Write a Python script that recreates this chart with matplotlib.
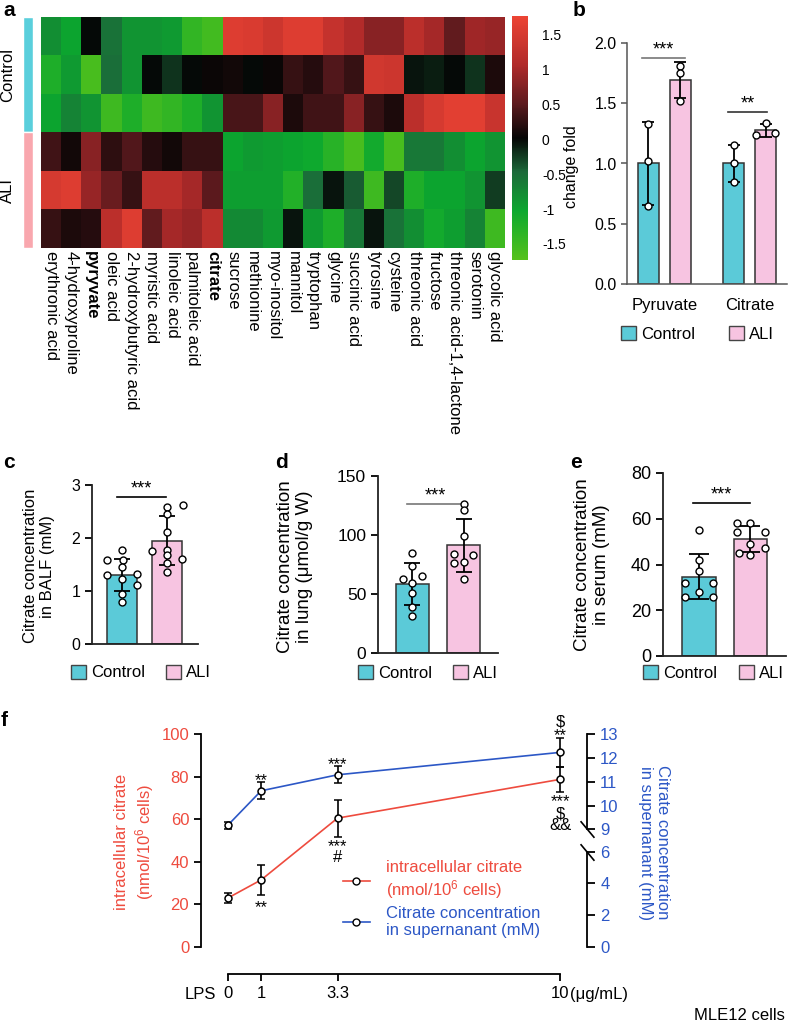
import numpy as np
import matplotlib
matplotlib.use("Agg")
import matplotlib.pyplot as plt
from matplotlib.colors import LinearSegmentedColormap
from matplotlib.patches import Patch
from matplotlib.lines import Line2D

plt.rcParams['font.family'] = ['Liberation Sans', 'DejaVu Sans']
plt.rcParams['mathtext.fontset'] = 'custom'
plt.rcParams['mathtext.rm'] = 'Liberation Sans'
plt.rcParams['mathtext.default'] = 'regular'

# ---------------- data ----------------
# a: heatmap (z-scores)
metabolites = ['erythronic acid', '4-hydroxyproline', 'pyryvate', 'oleic acid',
               '2-hydroxybutyric acid', 'myristic acid', 'linoleic acid',
               'palmitoleic acid', 'citrate', 'sucrose', 'methionine', 'myo-inositol',
               'mannitol', 'tryptophan', 'glycine', 'succinic acid', 'tyrosine',
               'cysteine', 'threonic acid', 'fructose', 'threonic acid-1,4-lactone',
               'serotonin', 'glycolic acid']
bold_names = ['pyryvate', 'citrate']
ctrl1 = [-0.8, -1.0, 0.0, -0.55, -0.85, -0.85, -0.9, -1.4, -1.55, 1.6, 1.55, 1.4, 1.6,
         1.6, 1.3, 1.1, 0.8, 0.8, 1.2, 1.0, 0.55, 0.95, 0.9]
ctrl2 = [-1.2, -0.9, -1.6, -0.5, -0.85, 0.0, -0.2, 0.0, 0.05, 0.1, 0.0, 0.05, 0.3,
         0.2, 0.45, 0.3, 1.45, 1.4, -0.05, -0.1, 0.0, -0.2, 0.15]
ctrl3 = [-1.0, -0.7, -0.85, -1.5, -1.2, -1.5, -1.4, -1.2, -0.85, 0.4, 0.4, 0.8, 0.15,
         0.35, 0.35, 0.8, 0.3, 0.15, 1.2, 1.5, 1.65, 1.65, 1.35]
ali1 = [0.35, 0.1, 0.8, 0.25, 0.45, 0.2, 0.1, 0.3, 0.3, -1.0, -0.9, -0.95, -1.0,
        -1.05, -1.3, -1.6, -1.1, -1.6, -0.6, -0.6, -0.8, -1.0, -0.85]
ali2 = [1.5, 1.6, 0.9, 0.6, 0.3, 1.2, 1.2, 1.0, 0.5, -0.95, -0.95, -0.95, -1.25,
        -0.5, -0.05, -0.4, -1.5, -0.3, -1.2, -1.0, -1.0, -0.85, -0.25]
ali3 = [0.3, 0.15, 0.2, 1.2, 1.6, 0.55, 1.0, 0.9, 1.2, -0.75, -0.75, -0.9, -0.05,
        -0.9, -1.2, -0.6, -0.05, -0.55, -0.8, -1.1, -0.95, -0.7, -1.5]
groups = ['Control', 'ALI']
group_sizes = [3, 3]
cbar_ticks = [1.5, 1, 0.5, 0, -0.5, -1, -1.5]
cbar_labels = ['1.5', '1', '0.5', '0', '-0.5', '-1', '-1.5']

# b: change fold (3 samples each)
b_names = ['Pyruvate', 'Citrate']
pyr_ctrl = [1.33, 1.02, 0.65]
pyr_ali = [1.81, 1.75, 1.52]
cit_ctrl = [1.15, 1.0, 0.85]
cit_ali = [1.34, 1.24, 1.25]

# c: BALF (mM)
balf_ctrl = [1.78, 1.58, 1.58, 1.45, 1.32, 1.30, 1.22, 1.12, 0.95, 0.80]
balf_ali = [2.63, 2.58, 2.45, 2.12, 1.76, 1.78, 1.68, 1.6, 1.52, 1.36]
# d: lung (umol/g W)
lung_ctrl = [85, 74, 65, 63, 59, 51, 39, 31]
lung_ali = [126, 121, 99, 84, 83, 77, 76, 63]
# e: serum (mM)
serum_ctrl = [55, 42, 37, 32, 32, 26, 26, 28]
serum_ali = [58, 58, 54, 54, 49, 47, 45, 44]

# f: MLE12 cells, LPS dose
lps = [0, 1, 3.3, 10]
intra_mean = [23, 31.5, 60.5, 78.7]
intra_sd = [2.5, 7, 8.7, 5.8]
super_mean = [9.18, 10.62, 11.29, 12.23]
super_sd = [0.15, 0.35, 0.36, 0.6]

# ---------------- style ----------------
cyan = '#5BCAD8'
pink = '#F7C4E1'
cyan_g = '#5ACFDC'
pink_g = '#F9A7AE'
red = '#EE4B3E'
blue = '#2C57C6'
edge = '#333333'

W, H = 788, 1027
fig = plt.figure(figsize=(W / 100, H / 100), dpi=100)


def box(x0, y0, x1, y1):
    return [x0 / W, 1 - y1 / H, (x1 - x0) / W, (y1 - y0) / H]


def panel_label(x, y, s):
    fig.text(x / W, 1 - y / H, s, fontsize=15, fontweight='bold', ha='left', va='center')


# ---------------- a ----------------
heat = np.array([ctrl1, ctrl2, ctrl3, ali1, ali2, ali3])
cmap = LinearSegmentedColormap.from_list('gbr', [
    (0.0, '#55C21B'), (0.2, '#0CA82F'), (0.36, '#1C6A3A'), (0.5, '#050505'),
    (0.64, '#5C1A1E'), (0.8, '#B02A2A'), (1.0, '#EC4434')])
ax_h = fig.add_axes(box(41, 17, 505, 248))
im = ax_h.imshow(heat, cmap=cmap, vmin=-1.73, vmax=1.77, aspect='auto',
                 interpolation='nearest')
ax_h.set_xticks(range(len(metabolites)))
ax_h.set_xticklabels(metabolites, rotation=-90, ha='center', va='top', fontsize=12)
for t in ax_h.get_xticklabels():
    if t.get_text() in bold_names:
        t.set_fontweight('bold')
ax_h.set_yticks([])
ax_h.tick_params(axis='x', length=0, pad=2)
for s in ax_h.spines.values():
    s.set_visible(False)

ax_g = fig.add_axes(box(23, 17, 33, 248))
bottoms = np.concatenate([[0], np.cumsum(group_sizes)[:-1]])
ax_g.bar([0, 0], group_sizes, bottom=bottoms, width=1, color=[cyan_g, pink_g],
         edgecolor='white', linewidth=1)
ax_g.set_xlim(-0.5, 0.5)
ax_g.set_ylim(sum(group_sizes), 0)
ax_g.set_xticks([])
ax_g.set_yticks(bottoms + np.array(group_sizes) / 2)
ax_g.set_yticklabels(groups, rotation=90, va='center', ha='right', fontsize=12)
ax_g.tick_params(axis='y', length=0, pad=6)
for s in ax_g.spines.values():
    s.set_visible(False)

cax = fig.add_axes(box(512, 16, 528, 260))
cb = fig.colorbar(im, cax=cax)
cb.outline.set_visible(False)
cb.set_ticks(cbar_ticks)
cb.set_ticklabels(cbar_labels)
cax.tick_params(length=0, labelsize=10, pad=10)
panel_label(3, 10, 'a')


# ---------------- bar helpers ----------------
def style_axis(ax, lw=1.3, color='#222222'):
    for s in ['top', 'right']:
        ax.spines[s].set_visible(False)
    for s in ['left', 'bottom']:
        ax.spines[s].set_linewidth(lw)
        ax.spines[s].set_color(color)


def draw_bar(ax, x, pts, color, width, jit, capsize):
    pts = np.asarray(pts, float)
    m = pts.mean()
    sd = pts.std(ddof=1)
    ax.bar(x, m, width, color=color, edgecolor=edge, linewidth=1.1, zorder=1)
    ax.errorbar(x, m, yerr=sd, color='black', capsize=capsize, elinewidth=1.3,
                capthick=1.3, zorder=3)
    ax.plot(x + np.asarray(jit) * width, pts, 'o', ms=5, mfc='white', mec='black',
            mew=1.0, zorder=4, clip_on=False)


def sig(ax, x0, x1, y, s, color='black', off=2.5):
    ax.plot([x0, x1], [y, y], color=color, lw=1.2, zorder=2)
    ax.annotate(s, xy=((x0 + x1) / 2, y), xytext=(0, off), textcoords='offset points',
                ha='center', va='baseline', fontsize=13)


def pair_legend(ax, anchor, colspace):
    handles = [Patch(facecolor=cyan, edgecolor='#444444', label='Control'),
               Patch(facecolor=pink, edgecolor='#444444', label='ALI')]
    ax.legend(handles=handles, loc='center', bbox_to_anchor=anchor, ncol=2,
              frameon=False, fontsize=12, handlelength=0.9, handleheight=0.9,
              handletextpad=0.3, columnspacing=colspace, borderaxespad=0, borderpad=0)


# ---------------- b ----------------
ax_b = fig.add_axes(box(627, 43, 787, 284))
d_off = 0.188
bw = 0.247
draw_bar(ax_b, 0 - d_off, pyr_ctrl, cyan, bw, [0, 0, 0], 4.3)
draw_bar(ax_b, 0 + d_off, pyr_ali, pink, bw, [0, 0, 0], 4.3)
draw_bar(ax_b, 1 - d_off, cit_ctrl, cyan, bw, [0, 0, 0], 4.3)
draw_bar(ax_b, 1 + d_off, cit_ali, pink, bw, [0, -0.45, 0.45], 4.3)
ax_b.set_xlim(-0.44, 1.44)
ax_b.set_ylim(0, 2.0)
ax_b.set_yticks([0, 0.5, 1.0, 1.5, 2.0])
ax_b.set_yticklabels(['0.0', '0.5', '1.0', '1.5', '2.0'])
ax_b.set_xticks([0, 1])
ax_b.set_xticklabels(b_names, fontsize=12)
ax_b.tick_params(axis='x', length=0, pad=10)
ax_b.tick_params(axis='y', labelsize=11.5, length=4, width=1.1, color='#555555')
style_axis(ax_b, 1.1, '#555555')
sig(ax_b, -0.26, 0.24, 1.875, '***', color='#777777')
sig(ax_b, 0.75, 1.2, 1.43, '**', color='#333333')
ax_b.set_ylabel('change fold', fontsize=11.5)
ax_b.yaxis.set_label_coords(-0.30, 0.485)
pair_legend(ax_b, (0.44, -0.207), 2.0)
panel_label(573, 10, 'b')

# ---------------- c ----------------
ax_c = fig.add_axes(box(92, 485, 198, 644))
cw = 0.667
draw_bar(ax_c, 0, balf_ctrl, cyan, cw, [0, -0.5, 0.05, 0, 0.5, -0.5, 0, 0.5, 0, 0], 6)
draw_bar(ax_c, 1, balf_ali, pink, cw, [0.55, 0, 0, 0, -0.5, 0, 0, 0.5, 0, 0], 6)
ax_c.set_xlim(-0.667, 1.69)
ax_c.set_ylim(0, 3)
ax_c.set_yticks([0, 1, 2, 3])
ax_c.set_xticks([])
ax_c.tick_params(axis='y', labelsize=11.5, length=5, width=1.3)
style_axis(ax_c)
sig(ax_c, -0.11, 0.98, 2.77, '***')
ax_c.set_ylabel('Citrate concentration\nin BALF (mM)', fontsize=12)
ax_c.yaxis.set_label_coords(-0.349, 0.49)
pair_legend(ax_c, (0.46, -0.18), 1.25)
panel_label(3, 463, 'c')

# ---------------- d ----------------
ax_d = fig.add_axes(box(378, 476, 498, 653))
dw = 0.647
draw_bar(ax_d, 0, lung_ctrl, cyan, dw, [0, 0, 0.3, -0.3, 0, 0, 0, 0], 6)
draw_bar(ax_d, 1, lung_ali, pink, dw, [0, 0, 0, -0.3, 0.3, 0, -0.3, 0], 6)
ax_d.set_xlim(-0.676, 1.676)
ax_d.set_ylim(0, 150)
ax_d.set_yticks([0, 50, 100, 150])
ax_d.set_xticks([])
ax_d.tick_params(axis='y', labelsize=12.5, length=5, width=1.3)
style_axis(ax_d)
sig(ax_d, -0.11, 0.99, 126, '***', color='#777777')
ax_d.set_ylabel('Citrate concentration\nin lung (μmol/g W)', fontsize=13.5)
ax_d.yaxis.set_label_coords(-0.54, 0.49)
pair_legend(ax_d, (0.42, -0.113), 1.25)
panel_label(275, 463, 'd')

# ---------------- e ----------------
ax_e = fig.add_axes(box(663, 473, 786, 656))
ew = 0.66
draw_bar(ax_e, 0, serum_ctrl, cyan, ew, [0, 0, 0, -0.42, 0.42, -0.42, 0.42, 0], 7)
draw_bar(ax_e, 1, serum_ali, pink, ew, [-0.4, 0, -0.4, 0.42, 0, 0.42, -0.35, 0], 7)
ax_e.set_xlim(-0.70, 1.69)
ax_e.set_ylim(0, 80)
ax_e.set_yticks([0, 20, 40, 60, 80])
ax_e.set_xticks([])
ax_e.tick_params(axis='y', labelsize=13, length=5, width=1.3)
style_axis(ax_e)
sig(ax_e, -0.12, 0.99, 67, '***')
ax_e.set_ylabel('Citrate concentration\nin serum (mM)', fontsize=13.5)
ax_e.yaxis.set_label_coords(-0.43, 0.50)
pair_legend(ax_e, (0.41, -0.093), 1.3)
panel_label(570, 463, 'e')

# ---------------- f ----------------
ax_f = fig.add_axes(box(201, 734, 587, 947))
ax_f.errorbar(lps, intra_mean, yerr=intra_sd, color=red, ecolor='black', lw=1.2,
              elinewidth=1.2, capsize=3, capthick=1.2, marker='o', ms=5,
              mfc='white', mec='black', mew=1.1, zorder=3)
ax_f.set_xlim(-0.81, 10.81)
ax_f.set_ylim(0, 100)
ax_f.set_yticks([0, 20, 40, 60, 80, 100])
ax_f.tick_params(axis='y', labelcolor=red, labelsize=12, length=5, width=1.3)
ax_f.spines['top'].set_visible(False)
ax_f.spines['right'].set_visible(False)
ax_f.spines['left'].set_linewidth(1.3)
ax_f.spines['bottom'].set_linewidth(1.3)
ax_f.spines['bottom'].set_position(('outward', 19.4))
ax_f.spines['bottom'].set_bounds(0, 10)
ax_f.set_xticks(lps)
ax_f.set_xticklabels(['0', '1', '3.3', '10'])
ax_f.tick_params(axis='x', labelsize=12, length=5, width=1.3)
xt = ax_f.get_xaxis_transform()
ax_f.text(-0.35, -0.225, 'LPS', transform=xt, ha='right', va='center', fontsize=12)
ax_f.text(10.3, -0.225, '(μg/mL)', transform=xt, ha='left', va='center', fontsize=12)
ax_f.set_ylabel('intracellular citrate\n(nmol/10$^6$ cells)', fontsize=12, color=red)
ax_f.yaxis.set_label_coords(-0.117, 0.495)

# right axis with a broken (piecewise) scale
brk_v = [0, 6, 9, 13]
brk_f = [0, 95, 117, 212]


def fwd(v):
    v = np.asarray(v, float)
    out = np.interp(v, brk_v, brk_f)
    out = np.where(v < 0, v * 95 / 6, out)
    return np.where(v > 13, 212 + (v - 13) * 24, out)


def inv(f):
    f = np.asarray(f, float)
    out = np.interp(f, brk_f, brk_v)
    out = np.where(f < 0, f * 6 / 95, out)
    return np.where(f > 212, 13 + (f - 212) / 24, out)


ax2 = ax_f.twinx()
ax2.set_yscale('function', functions=(fwd, inv))
ax2.set_ylim(0, 13)
ax2.errorbar(lps, super_mean, yerr=super_sd, color=blue, ecolor='black', lw=1.2,
             elinewidth=1.2, capsize=3, capthick=1.2, marker='o', ms=5,
             mfc='white', mec='black', mew=1.1, zorder=3)
for s in ax2.spines.values():
    s.set_visible(False)
yt = ax2.get_yaxis_transform()
ax2.plot([1, 1], [0, 6], transform=yt, color='black', lw=1.3, clip_on=False)
ax2.plot([1, 1], [9, 13], transform=yt, color='black', lw=1.3, clip_on=False)
ax2.plot([1, 1], [6, 9], transform=yt, ls='none', marker=[(-1, 1.2), (1, -1.2)],
         ms=12, mew=1.2, color='black', clip_on=False)
ax2.set_yticks([0, 2, 4, 6, 9, 10, 11, 12, 13])
ax2.set_yticklabels(['0', '2', '4', '6', '9', '10', '11', '12', '13'])
ax2.yaxis.set_minor_locator(matplotlib.ticker.NullLocator())
ax2.tick_params(axis='y', labelcolor=blue, labelsize=12, length=6, width=1.3)
ax2.set_ylabel('Citrate concentration\nin supernanant (mM)', fontsize=12, color=blue,
               rotation=270, va='bottom')
ax2.yaxis.set_label_coords(1.132, 0.49)

# significance marks (stacked marks are one multi-line text; offset = last line)
up = np.array(super_mean) + np.array(super_sd)
lo = np.array(intra_mean) - np.array(intra_sd)


def mark(ax, x, y, s, off, ls=1.0, size=12):
    ax.annotate(s, xy=(x, y), xytext=(0, off), textcoords='offset points',
                ha='center', va='baseline', fontsize=size, linespacing=ls)


mark(ax2, lps[1], up[1], '**', -2)
mark(ax2, lps[2], up[2], '***', -2)
mark(ax2, lps[3], up[3], '$\n**', -1.5, ls=0.92)
mark(ax_f, lps[1], lo[1], '**', -12.7)
mark(ax_f, lps[2], lo[2], '***\n#', -18.5, ls=0.66)
mark(ax_f, lps[3], lo[3], '***\n$\n&&', -27.7, ls=0.76)

h_red = Line2D([], [], color=red, marker='o', mfc='white', mec='black', ms=5, lw=1.2)
h_blue = Line2D([], [], color=blue, marker='o', mfc='white', mec='black', ms=5, lw=1.2)
leg = ax2.legend([h_red, h_blue],
                 ['intracellular citrate\n(nmol/10$^6$ cells)',
                  'Citrate concentration\nin supernanant (mM)'],
                 loc='upper left', bbox_to_anchor=(0.368, 0.41), frameon=False,
                 fontsize=12, handlelength=1.6, handletextpad=1.0, labelspacing=0.3,
                 borderaxespad=0, borderpad=0)
for t, c in zip(leg.get_texts(), [red, blue]):
    t.set_color(c)

fig.text(785 / W, 1 - 1015 / H, 'MLE12 cells', fontsize=12, ha='right', va='center')
panel_label(1, 720, 'f')

fig.savefig('out.png', dpi=100)
